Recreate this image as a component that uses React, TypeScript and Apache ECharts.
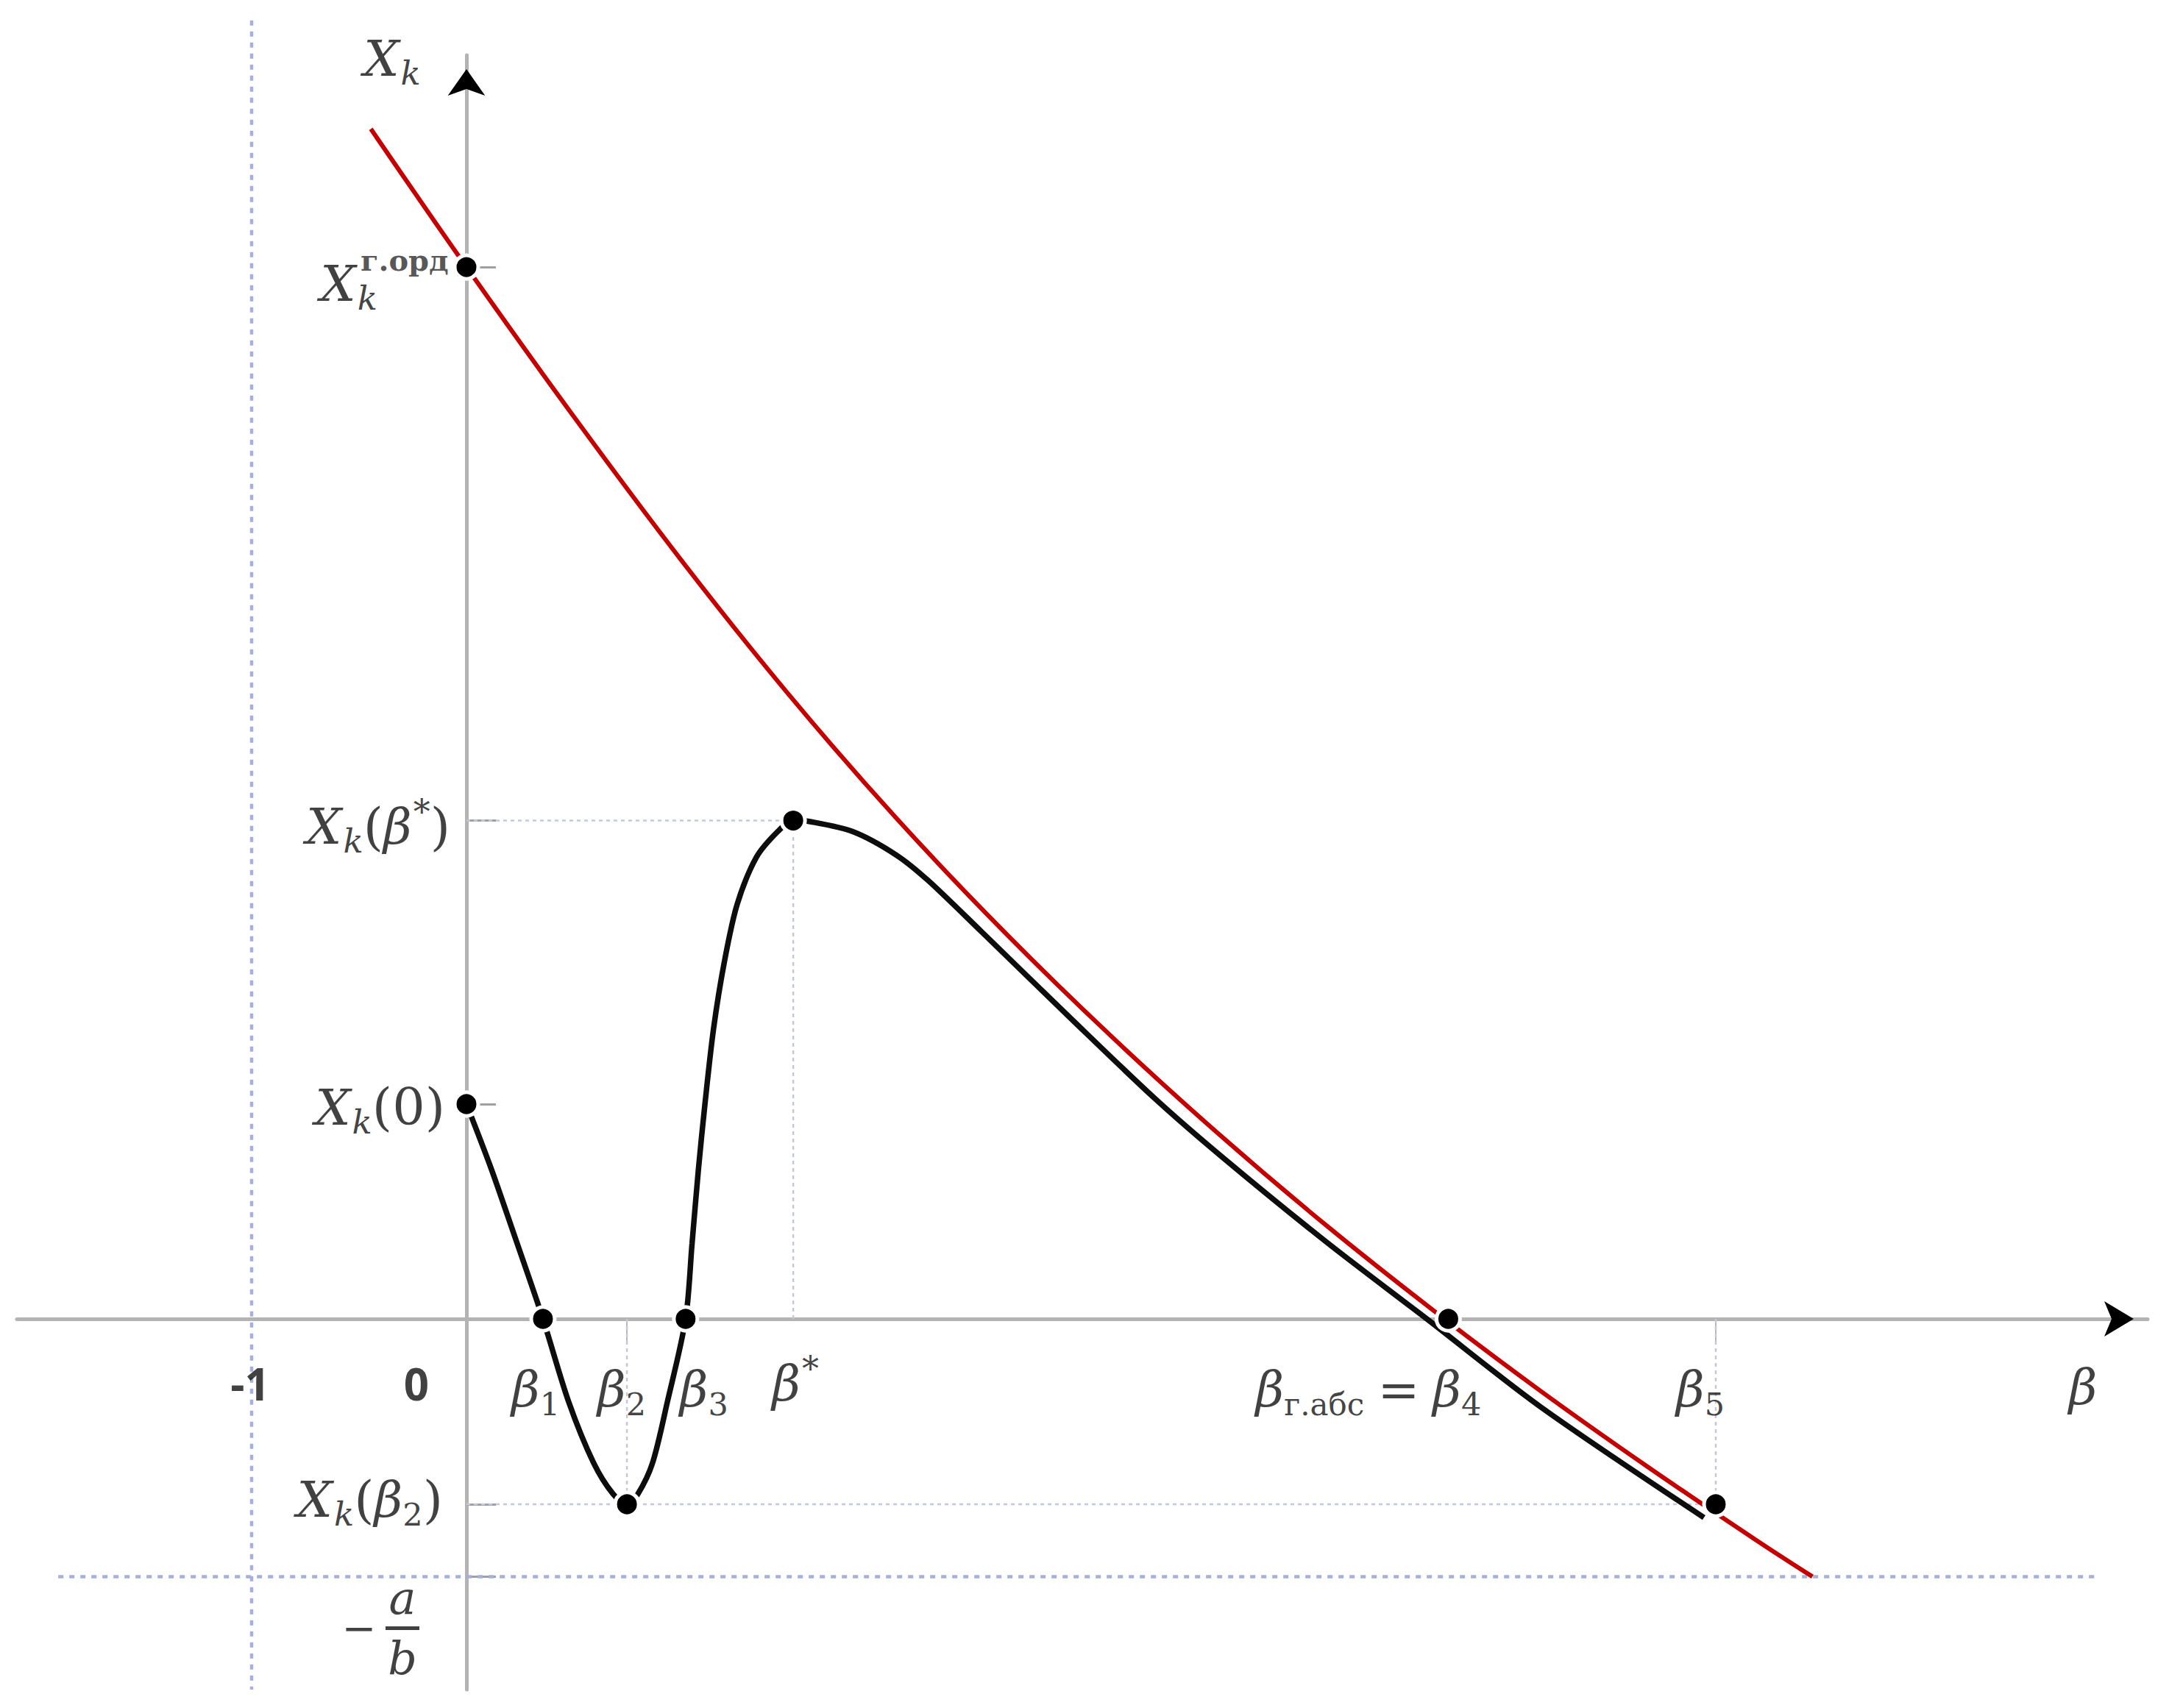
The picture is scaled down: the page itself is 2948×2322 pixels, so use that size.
import React, { useEffect, useRef } from "react";
import * as echarts from "echarts";

// ---------- values (1 unit = distance between 0 and -1 on the β axis) ----------
const BETA1 = 0.356;
const BETA2 = 0.747;
const BETA3 = 1.02;
const BETA_STAR = 1.521;
const BETA4 = 4.57;
const BETA5 = 5.815;
const X_ORD = 4.897; // X_k^{г.орд}
const X_ZERO = 1.0; // X_k(0)
const X_STAR = 2.32; // X_k(β*)
const X_BETA2 = -0.863; // X_k(β2) = X_k(β5)
const NEG_A_B = -1.2; // -a/b
const MINUS_ONE = -1;

// red curve (upper bound)
const redX = [-0.445, 0, 0.5, 1.0, 1.5, 2.0, 2.5, 3.0, 3.5, 4.0, 4.5, 5.0, 5.5, 6.0, 6.265];
const redY = [5.54, 4.897, 4.2, 3.532, 2.907, 2.332, 1.805, 1.317, 0.862, 0.437, 0.04, -0.336, -0.69, -1.028, -1.2];

// black curve X_k(β)
const blackX = [0, 0.113, 0.226, 0.356, 0.476, 0.592, 0.682, 0.747, 0.798, 0.866, 0.935, 1.02, 1.05, 1.08, 1.11, 1.15, 1.2, 1.26, 1.35, 1.45, 1.521, 1.6, 1.8, 2.0, 2.15, 2.4, 2.812, 3.2, 3.51, 4.0, 4.47, 5.0, 5.76];
const blackY = [1.0, 0.705, 0.38, 0, -0.387, -0.671, -0.815, -0.863, -0.815, -0.671, -0.387, 0, 0.35, 0.7, 1.0, 1.35, 1.66, 1.93, 2.15, 2.27, 2.32, 2.315, 2.268, 2.16, 2.04, 1.8, 1.4, 1.03, 0.76, 0.36, 0.0, -0.41, -0.925];

// extents of the long dotted guides
const MINUS_ONE_LINE_Y = [6.045, -1.726];
const NEG_A_B_LINE_X = [-1.9, 7.6];

// ---------- layout ----------
const W = 2948;
const H = 2322;
const GRID = { left: 23, right: 29, top: 75, bottom: 25 };
const ORIGIN_PX = { x: 634, y: 1793 };
const UNIT = 292; // px per unit
const X_MIN = -(ORIGIN_PX.x - GRID.left) / UNIT;
const X_MAX = X_MIN + (W - GRID.left - GRID.right) / UNIT;
const Y_MAX = (ORIGIN_PX.y - GRID.top) / UNIT;
const Y_MIN = Y_MAX - (H - GRID.top - GRID.bottom) / UNIT;

const MATH = "'DejaVu Serif', serif";
const TEXT = "#111111";

const rich = {
  X: { fontFamily: MATH, fontStyle: "italic", fontSize: 68, color: TEXT },
  k: { fontFamily: MATH, fontStyle: "italic", fontSize: 45, color: TEXT, padding: [40, 0, 0, 2] },
  p: { fontFamily: MATH, fontSize: 70, color: TEXT },
  b: { fontFamily: MATH, fontStyle: "italic", fontSize: 67, color: TEXT },
  s: { fontFamily: MATH, fontSize: 43, color: TEXT, padding: [40, 0, 0, 0] },
  sc: { fontFamily: MATH, fontSize: 42, color: TEXT, padding: [40, 0, 0, 0] },
  st: { fontFamily: MATH, fontSize: 46, color: TEXT, padding: [0, 0, 40, 2] },
  eq: { fontFamily: MATH, fontSize: 68, color: TEXT, padding: [0, 18, 0, 18] },
  num: { fontFamily: "'Open Sans', sans-serif", fontWeight: 700, fontSize: 60, color: TEXT },
  sup: { fontFamily: MATH, fontSize: 40, fontWeight: "bold", color: "#2a2a2a" },
  fa: { fontFamily: MATH, fontStyle: "italic", fontSize: 62, color: TEXT, lineHeight: 62 },
  fb: { fontFamily: MATH, fontStyle: "italic", fontSize: 62, color: TEXT, lineHeight: 62 },
  bar: { width: 46, height: 5, backgroundColor: TEXT, lineHeight: 20 },
  minus: { fontFamily: MATH, fontSize: 56, color: TEXT },
};

type Lab = { x: number; y: number; text: string; dx: number; dy: number; align?: string };
const labels: Lab[] = [
  { x: 0, y: Y_MAX, text: "{X|X}{k|k}", dx: -101, dy: 4 },
  { x: 0, y: X_ORD, text: "{X|X}{k|k}", dx: -121, dy: 22, align: "right" },
  { x: 0, y: X_ORD, text: "{sup|г.орд}", dx: -144, dy: -10, align: "left" },
  { x: 0, y: X_STAR, text: "{X|X}{k|k}{p|(}{b|β}{st|*}{p|)}", dx: -22, dy: 8, align: "right" },
  { x: 0, y: X_ZERO, text: "{X|X}{k|k}{p|(0)}", dx: -29, dy: 4, align: "right" },
  { x: 0, y: X_BETA2, text: "{X|X}{k|k}{p|(}{b|β}{s|2}{p|)}", dx: -32, dy: -6, align: "right" },
  { x: 0, y: NEG_A_B, text: "{minus|−}", dx: -146, dy: 70 },
  { x: 0, y: NEG_A_B, text: "{fa|a}\n{bar| }\n{fb|b}", dx: -87, dy: 70 },
  { x: MINUS_ONE, y: 0, text: "{num|-1}", dx: -2, dy: 88 },
  { x: 0, y: 0, text: "{num|0}", dx: -68, dy: 88 },
  { x: BETA1, y: 0, text: "{b|β}{s|1}", dx: -10, dy: 96 },
  { x: BETA2, y: 0, text: "{b|β}{s|2}", dx: -7, dy: 96 },
  { x: BETA3, y: 0, text: "{b|β}{s|3}", dx: 25, dy: 96 },
  { x: BETA_STAR, y: 0, text: "{b|β}{st|*}", dx: 3, dy: 88 },
  { x: BETA4, y: 0, text: "{b|β}{sc|г.абс}{eq|=}{b|β}{s|4}", dx: 45, dy: 96, align: "right" },
  { x: BETA5, y: 0, text: "{b|β}{s|5}", dx: -21, dy: 96 },
  { x: X_MAX, y: 0, text: "{b|β}", dx: -88, dy: 93 },
];

const dots = [
  [0, X_ORD],
  [0, X_ZERO],
  [BETA1, 0],
  [BETA2, X_BETA2],
  [BETA3, 0],
  [BETA_STAR, X_STAR],
  [BETA4, 0],
  [BETA5, X_BETA2],
];

const thinGuides = [
  [[0, X_STAR], [BETA_STAR, X_STAR]],
  [[BETA_STAR, 0], [BETA_STAR, X_STAR]],
  [[0, X_BETA2], [BETA5, X_BETA2]],
  [[BETA2, 0], [BETA2, X_BETA2]],
  [[BETA5, 0], [BETA5, X_BETA2]],
];
const boldGuides = [
  [[MINUS_ONE, MINUS_ONE_LINE_Y[0]], [MINUS_ONE, MINUS_ONE_LINE_Y[1]]],
  [[NEG_A_B_LINE_X[0], NEG_A_B], [NEG_A_B_LINE_X[1], NEG_A_B]],
];

const zip = (xs: number[], ys: number[]) => xs.map((x, i) => [x, ys[i]]);

export default function App() {
  const ref = useRef<HTMLDivElement>(null);
  useEffect(() => {
    document.body.style.margin = "0";
    if (!ref.current) return;
    const chart = echarts.init(ref.current, undefined, { renderer: "svg" });
    const ARROW_HALF = 19 / UNIT;
    const series: any[] = [];
    thinGuides.forEach((seg) =>
      series.push({
        type: "line",
        data: seg,
        symbol: "none",
        silent: true,
        clip: false,
        z: 1,
        lineStyle: { color: "#c3c8dc", width: 2.5, type: [5, 5] },
      })
    );
    boldGuides.forEach((seg) =>
      series.push({
        type: "line",
        data: seg,
        symbol: "none",
        silent: true,
        clip: false,
        z: 1,
        lineStyle: { color: "#a6b0da", width: 4.5, type: [7, 8] },
      })
    );
    series.push({
      type: "line",
      name: "upper",
      data: zip(redX, redY),
      symbol: "none",
      smooth: 0.35,
      clip: false,
      z: 3,
      lineStyle: { color: "#c40000", width: 6 },
    });
    series.push({
      type: "line",
      name: "Xk",
      data: zip(blackX, blackY),
      symbol: "none",
      smooth: 0.3,
      clip: false,
      z: 4,
      lineStyle: { color: "#0d0d0d", width: 7.5 },
    });
    series.push({
      type: "scatter",
      data: dots,
      symbol: "circle",
      symbolSize: 32,
      z: 5,
      itemStyle: { color: "#000", borderColor: "#fff", borderWidth: 5, opacity: 1 },
    });
    series.push({
      type: "scatter",
      data: [[X_MAX - ARROW_HALF, 0]],
      symbol: "arrow",
      symbolSize: [36, 40],
      symbolRotate: -90,
      clip: false,
      z: 6,
      itemStyle: { color: "#000", opacity: 1 },
    });
    series.push({
      type: "scatter",
      data: [[0, Y_MAX - ARROW_HALF]],
      symbol: "arrow",
      symbolSize: [38, 36],
      clip: false,
      z: 6,
      itemStyle: { color: "#000", opacity: 1 },
    });
    series.push({
      type: "scatter",
      symbolSize: 0,
      silent: true,
      clip: false,
      z: 7,
      data: labels.map((l) => ({
        value: [l.x, l.y],
        label: {
          show: true,
          position: "inside",
          formatter: l.text,
          offset: [l.dx, l.dy],
          align: l.align || "center",
          verticalAlign: "middle",
          rich,
        },
      })),
    });

    chart.setOption({
      animation: false,
      backgroundColor: "#ffffff",
      grid: { ...GRID, containLabel: false },
      xAxis: {
        type: "value",
        min: X_MIN,
        max: X_MAX,
        axisLine: { onZero: true, lineStyle: { color: "#b3b3b3", width: 5 } },
        axisTick: { show: true, customValues: [BETA2, BETA5], length: 30, lineStyle: { color: "#b8b8b8", width: 2 } },
        axisLabel: { show: false },
        splitLine: { show: false },
      },
      yAxis: {
        type: "value",
        min: Y_MIN,
        max: Y_MAX,
        axisLine: { onZero: true, lineStyle: { color: "#b3b3b3", width: 5 } },
        axisTick: {
          show: true,
          inside: true,
          customValues: [X_ORD, X_STAR, X_ZERO, X_BETA2, NEG_A_B],
          length: 40,
          lineStyle: { color: "#a0a0a0", width: 3 },
        },
        axisLabel: { show: false },
        splitLine: { show: false },
      },
      series,
    });
    return () => chart.dispose();
  }, []);
  return <div ref={ref} style={{ position: "absolute", left: 0, top: 0, width: W, height: H }} />;
}
